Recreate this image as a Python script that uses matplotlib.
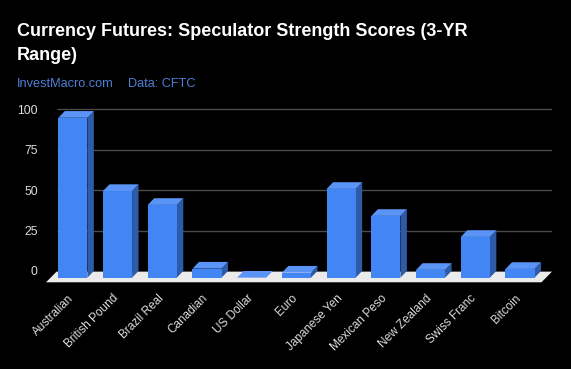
import matplotlib
matplotlib.use("Agg")
import matplotlib.pyplot as plt
from matplotlib.patches import Polygon

categories = ["Australian", "British Pound", "Brazil Real", "Canadian", "US Dollar",
              "Euro", "Japanese Yen", "Mexican Peso", "New Zealand", "Swiss Franc", "Bitcoin"]
values = [98.9, 53.6, 45.0, 5.6, 0.0, 3.1, 54.9, 38.2, 4.8, 25.2, 5.4]
yticks = [0, 25, 50, 75, 100]

title_lines = ["Currency Futures: Speculator Strength Scores (3-YR", "Range)"]
subtitle1 = "InvestMacro.com"
subtitle2 = "Data: CFTC"

# style / geometry constants
FRONT = "#4285f4"
TOP = "#5a94f6"
SIDE = "#2d5ba8"
FLOOR = "#ebebeb"
GRID = "#4a4a4a"
W = 0.65          # bar width (category units)
DX = 0.145        # bar depth in x (category units)
DY = 4.14         # bar depth in y (value units)
FDX = 0.235       # floor depth in x
FY_BACK, FY_FRONT = -0.4, -7.0
LABEL_SHIFT = 0.11

fig = plt.figure(figsize=(5.71, 3.69), dpi=100, facecolor="black")
ax = fig.add_axes([46 / 571, 0.2341, 506 / 571, 0.7060 - 0.2341])
ax.set_facecolor("black")
n = len(categories)
x_left, x_right = -0.51, n - 1 + 0.57
ax.set_xlim(x_left - FDX, x_right)
ax.set_ylim(-7.2, 100.5)

# gridlines on the back plane
ax.hlines(yticks[1:], x_left, x_right, colors=GRID, linewidth=1, zorder=0)

# floor
ax.add_patch(Polygon([(x_left, FY_BACK), (x_right, FY_BACK),
                      (x_right - FDX, FY_FRONT), (x_left - FDX, FY_FRONT)],
                     closed=True, facecolor=FLOOR, edgecolor="none", zorder=1))

xs = list(range(n))
fx = [x - DX for x in xs]
ax.bar(fx, values, bottom=-DY, width=W, color=FRONT, zorder=3, linewidth=0)
for x, v in zip(xs, values):
    top = [(x - DX - W / 2, v - DY), (x - DX + W / 2, v - DY),
           (x + W / 2, v), (x - W / 2, v)]
    side = [(x - DX + W / 2, -DY), (x - DX + W / 2, v - DY),
            (x + W / 2, v), (x + W / 2, 0)]
    ax.add_patch(Polygon(side, closed=True, facecolor=SIDE, edgecolor="none", zorder=2))
    ax.add_patch(Polygon(top, closed=True, facecolor=TOP, edgecolor="none", zorder=4))

for s in ax.spines.values():
    s.set_visible(False)

ax.set_yticks(yticks)
ax.set_yticklabels([str(t) for t in yticks], fontsize=8.7, color="#dddddd",
                   family="Liberation Sans")
ax.tick_params(axis="y", length=0, pad=6)
ax.set_xticks([p - LABEL_SHIFT for p in fx])
ax.set_xticklabels(categories, rotation=45, ha="right", rotation_mode="anchor",
                   fontsize=8.5, color="#dddddd", family="Liberation Sans")
ax.tick_params(axis="x", length=0, pad=7)

fig.text(17 / 571, 1 - 36 / 369, title_lines[0], fontsize=13, fontweight="bold",
         color="white", family="Liberation Sans", ha="left", va="baseline")
fig.text(17 / 571, 1 - 60 / 369, title_lines[1], fontsize=13, fontweight="bold",
         color="white", family="Liberation Sans", ha="left", va="baseline")
fig.text(17 / 571, 1 - 87 / 369, subtitle1, fontsize=9.2, color="#4f7fd4",
         family="Liberation Sans", ha="left", va="baseline")
fig.text(128 / 571, 1 - 87 / 369, subtitle2, fontsize=9.2, color="#4f7fd4",
         family="Liberation Sans", ha="left", va="baseline")

fig.savefig("out.png", dpi=100, facecolor="black")
